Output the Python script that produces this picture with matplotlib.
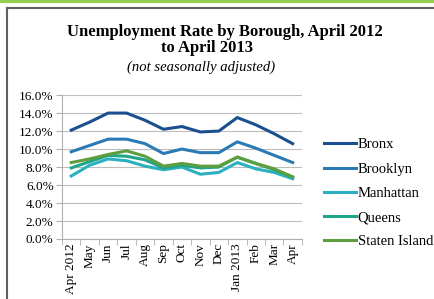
import matplotlib.pyplot as plt
import matplotlib.lines as mlines
import numpy as np

# --- data ---
months = ['Apr 2012', 'May', 'Jun', 'Jul', 'Aug', 'Sep', 'Oct', 'Nov', 'Dec',
          'Jan 2013', 'Feb', 'Mar', 'Apr']
bronx = [12.1, 13.0, 14.0, 14.0, 13.2, 12.2, 12.5, 11.9, 12.0, 13.5, 12.7, 11.7, 10.6]
brooklyn = [9.7, 10.4, 11.1, 11.1, 10.6, 9.5, 10.0, 9.6, 9.6, 10.8, 10.1, 9.3, 8.5]
manhattan = [7.0, 8.2, 8.9, 8.7, 8.1, 7.7, 8.0, 7.2, 7.4, 8.5, 7.8, 7.4, 6.7]
queens = [7.9, 8.6, 9.3, 9.2, 8.8, 7.9, 8.2, 7.9, 8.0, 9.1, 8.4, 7.7, 6.9]
staten_island = [8.5, 8.9, 9.4, 9.8, 9.2, 8.1, 8.4, 8.1, 8.1, 9.1, 8.4, 7.8, 6.9]

series = [('Bronx', bronx, '#1b4f8f'),
          ('Brooklyn', brooklyn, '#2a7ab5'),
          ('Manhattan', manhattan, '#2bb0bf'),
          ('Queens', queens, '#1fa58a'),
          ('Staten Island', staten_island, '#5e9e3e')]

plt.rcParams['font.family'] = ['Liberation Serif', 'DejaVu Serif']

fig = plt.figure(figsize=(4.35, 2.99), dpi=100)

# outer decoration: green strip on top and grey frame
fig.add_artist(mlines.Line2D([0, 1], [0.995, 0.995], color='#92d050', lw=3))
fig.add_artist(mlines.Line2D([0.017, 1], [0.973, 0.973], color='#606060', lw=1.5))
fig.add_artist(mlines.Line2D([0.017, 0.017], [0, 0.973], color='#606060', lw=1.5))

ax = fig.add_axes([0.1425, 0.2007, 0.5515, 0.4813])
x = np.arange(len(months))
for name, vals, col in series:
    ax.plot(x, vals, color=col, lw=2.2, label=name)

ax.set_xlim(-0.5, len(months) - 0.5)
ax.set_ylim(0, 16)
ax.set_yticks(np.arange(0, 17, 2))
ax.set_yticklabels([f'{v:.1f}%' for v in np.arange(0, 17, 2)], fontsize=9.5)
ax.set_xticks(x)
ax.set_xticklabels(months, rotation=90, fontsize=9.5)
ax.set_xticks(np.arange(-0.5, len(months)), minor=True)
ax.tick_params(axis='x', which='major', length=0, pad=3)
ax.tick_params(axis='x', which='minor', length=4, color='#b0b0b0')
ax.tick_params(axis='y', length=4, color='#b0b0b0', pad=2)
ax.yaxis.grid(True, color='#bdbdbd', lw=0.8)
ax.set_axisbelow(True)
for s in ['top', 'right']:
    ax.spines[s].set_visible(False)
ax.spines['left'].set_color('#b0b0b0')
ax.spines['bottom'].set_color('#b0b0b0')

fig.text(0.517, 0.893, 'Unemployment Rate by Borough, April 2012', ha='center',
         va='center', fontsize=12, fontweight='bold')
fig.text(0.476, 0.838, 'to April 2013', ha='center', va='center',
         fontsize=12, fontweight='bold')
fig.text(0.463, 0.775, '(not seasonally adjusted)', ha='center', va='center',
         fontsize=10.5, style='italic')

fig.legend(loc='upper left', bbox_to_anchor=(0.715, 0.582), frameon=False,
           fontsize=10.5, handlelength=2.2, handletextpad=0.1, labelspacing=0.76)

plt.savefig('out.png', dpi=100)
